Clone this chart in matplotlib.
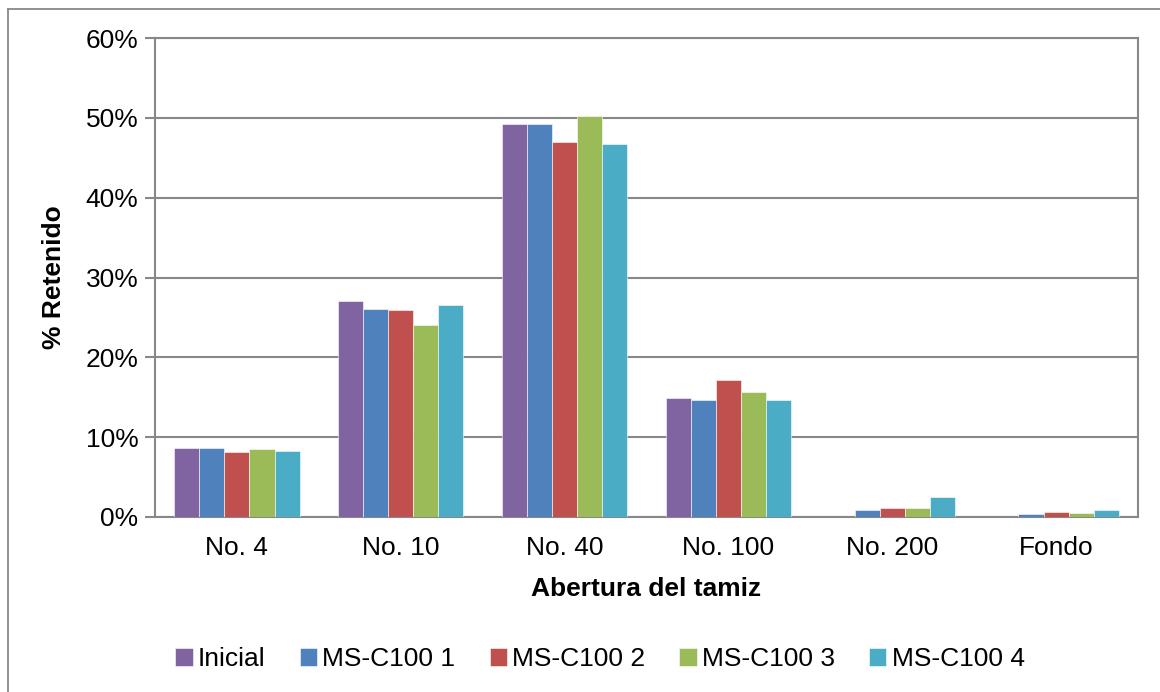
import matplotlib
matplotlib.use("Agg")
import matplotlib.pyplot as plt
from matplotlib.lines import Line2D
from matplotlib.ticker import PercentFormatter
import numpy as np

plt.rcParams['font.family'] = ['Liberation Sans', 'DejaVu Sans']

categorias = ["No. 4", "No. 10", "No. 40", "No. 100", "No. 200", "Fondo"]
series = ["Inicial", "MS-C100 1", "MS-C100 2", "MS-C100 3", "MS-C100 4"]
inicial = [8.6, 27.1, 49.2, 14.9, 0.0, 0.0]
ms1 = [8.7, 26.0, 49.2, 14.7, 0.85, 0.4]
ms2 = [8.2, 25.9, 47.0, 17.1, 1.1, 0.6]
ms3 = [8.5, 24.1, 50.2, 15.6, 1.1, 0.45]
ms4 = [8.3, 26.5, 46.7, 14.6, 2.5, 0.9]
colores = ["#8064A2", "#4F81BD", "#C0504D", "#9BBB59", "#4BACC6"]

valores = [inicial, ms1, ms2, ms3, ms4]

fig = plt.figure(figsize=(11.6, 6.92), dpi=100)
ax = fig.add_axes([155/1160, 1 - 517/692, (1138-155)/1160, (517-38)/692])

# borde exterior del grafico (solo se ve arriba y a la izquierda)
xb, yb = 7.5/1160, 1 - 8.5/692
fig.lines.append(Line2D([xb, xb], [0, yb], transform=fig.transFigure, color="#888888", lw=1.3))
fig.lines.append(Line2D([xb, 1], [yb, yb], transform=fig.transFigure, color="#888888", lw=1.3))

x = np.arange(len(categorias))
ancho = 0.153
for i, (nombre, vals) in enumerate(zip(series, valores)):
    ax.bar(x + (i - 2) * ancho, vals, ancho, color=colores[i], label=nombre,
           edgecolor="white", linewidth=0.4, zorder=3)

ax.set_xlim(-0.5, len(categorias) - 0.5)
ax.set_ylim(0, 60)
ax.set_yticks(np.arange(0, 61, 10))
ax.yaxis.set_major_formatter(PercentFormatter(decimals=0))
ax.set_xticks(x)
ax.set_xticklabels(categorias)
ax.grid(axis="y", color="#888888", linewidth=1.5, zorder=0)
for s in ax.spines.values():
    s.set_color("#888888")
    s.set_linewidth(1.5)
ax.tick_params(axis="y", length=7, width=1.5, color="#888888", labelsize=19, pad=5)
ax.tick_params(axis="x", length=0, labelsize=19, pad=14)

ax.set_xlabel("Abertura del tamiz", fontsize=19, fontweight="bold", labelpad=12)
ax.set_ylabel("% Retenido", fontsize=19, fontweight="bold", labelpad=14)

ax.legend(loc="center", bbox_to_anchor=(600/1160, 1 - 659/692), bbox_transform=fig.transFigure,
          ncol=5, frameon=False, fontsize=19, handlelength=0.65, handleheight=0.65,
          handletextpad=0.2, columnspacing=1.3)

fig.savefig("out.png", dpi=100)
